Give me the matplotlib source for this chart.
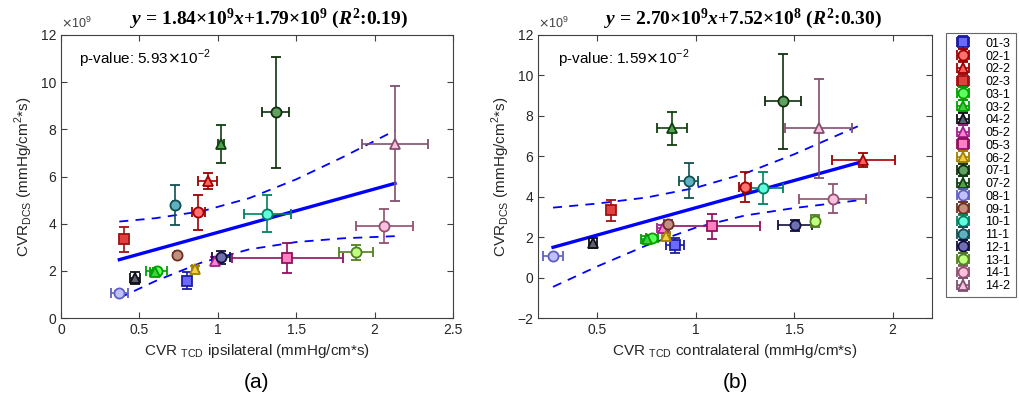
import numpy as np
import matplotlib
matplotlib.use('Agg')
import matplotlib.pyplot as plt

plt.rcParams['font.family'] = ['Liberation Sans', 'DejaVu Sans']
plt.rcParams['mathtext.fontset'] = 'custom'
plt.rcParams['mathtext.rm'] = 'Liberation Serif:bold'
plt.rcParams['mathtext.it'] = 'Liberation Serif:bold:italic'
plt.rcParams['mathtext.bf'] = 'Liberation Serif:bold'

# sujeitos / sessões
ids = ['01-3', '02-1', '02-2', '02-3', '03-1', '03-2', '04-2', '05-2', '05-3', '06-2',
       '07-1', '07-2', '08-1', '09-1', '10-1', '11-1', '12-1', '13-1', '14-1', '14-2']
markers = ['s', 'o', '^', 's', 'o', '^', '^', '^', 's', '^',
           'o', '^', 'o', 'o', 'o', 'o', 'o', 'o', 'o', '^']
edge_colors = ['#1c1ca0', '#a00000', '#a00000', '#a01010', '#00a000', '#00a000', '#101018', '#a0208a',
               '#901060', '#a08000', '#103010', '#104010', '#6060c0', '#703020', '#008060', '#105050',
               '#101040', '#508020', '#905070', '#805070']
face_colors = ['#6a6aff', '#ff7070', '#ff6060', '#e04040', '#60ff60', '#40d040', '#606070', '#ff80d0',
               '#ff80c0', '#f0d040', '#60a060', '#50a050', '#c0c0ff', '#c09080', '#60ffe0', '#60b0c0',
               '#7070b0', '#c0ff80', '#ffc0e0', '#ffc0e0']

# CVR DCS (x1e9) e erro
cvr_dcs = [1.59, 4.49, 5.81, 3.33, 1.98, 1.93, 1.70, 2.43, 2.53, 2.07,
           8.72, 7.38, 1.05, 2.67, 4.42, 4.80, 2.58, 2.78, 3.90, 7.38]
cvr_dcs_err = [0.35, 0.74, 0.34, 0.53, 0.12, 0.12, 0.25, 0.15, 0.63, 0.12,
               2.34, 0.82, 0.08, 0.10, 0.78, 0.85, 0.28, 0.30, 0.72, 2.44]

# CVR TCD ipsilateral
tcd_ipsi = [0.802, 0.876, 0.936, 0.404, 0.610, 0.600, 0.472, 0.982, 1.443, 0.855,
            1.369, 1.020, 0.372, 0.738, 1.316, 0.725, 1.020, 1.881, 2.062, 2.130]
tcd_ipsi_err = [0.02, 0.04, 0.06, 0.015, 0.066, 0.03, 0.03, 0.02, 0.355, 0.02,
                0.087, 0.02, 0.053, 0.01, 0.15, 0.01, 0.06, 0.11, 0.18, 0.21]

# CVR TCD contralateral
tcd_contra = [0.896, 1.252, 1.850, 0.571, 0.778, 0.753, 0.478, 0.834, 1.083, 0.850,
              1.444, 0.880, 0.276, 0.860, 1.342, 0.964, 1.503, 1.604, 1.696, 1.624]
tcd_contra_err = [0.046, 0.03, 0.16, 0.01, 0.03, 0.03, 0.02, 0.03, 0.245, 0.02,
                  0.093, 0.076, 0.05, 0.02, 0.10, 0.05, 0.087, 0.02, 0.17, 0.17]

# ajustes lineares (coeficientes do título)
fit_a = (1.84, 1.79)
fit_b = (2.70, 0.752)

# bandas de confiança
band_a_x = [0.372, 0.6, 0.9, 1.2, 1.5, 1.8, 2.130]
band_a_up = [4.09, 4.23, 4.53, 5.08, 5.88, 6.83, 7.95]
band_a_lo = [0.85, 1.56, 2.36, 2.91, 3.22, 3.38, 3.47]
band_b_x = [0.276, 0.5, 0.75, 1.0, 1.25, 1.5, 1.85]
band_b_up = [3.46, 3.66, 3.96, 4.44, 5.15, 6.10, 7.60]
band_b_lo = [-0.46, 0.55, 1.59, 2.47, 3.07, 3.44, 3.85]

fig = plt.figure(figsize=(10.2, 4.0), dpi=100)
ax1 = fig.add_axes([0.0598, 0.205, 0.3843, 0.7075])
ax2 = fig.add_axes([0.5275, 0.205, 0.3863, 0.7075])


def draw_panel(ax, xv, xe, fit, bx, bup, blo):
    handles = []
    for i in range(len(ids)):
        ms = 6.5 if markers[i] == 's' else 7.3
        h = ax.errorbar(xv[i], cvr_dcs[i], xerr=xe[i], yerr=cvr_dcs_err[i],
                        fmt=markers[i], ms=ms, mfc=face_colors[i], mec=edge_colors[i], mew=1.3,
                        ecolor=edge_colors[i], elinewidth=1.2, capsize=3.5, capthick=1.2,
                        label=ids[i], zorder=3)
        handles.append(h)
    xx = np.array([min(xv), max(xv)])
    ax.plot(xx, fit[0] * xx + fit[1], color='#0000ff', lw=2.4, zorder=2)
    ax.plot(bx, bup, color='#0000ff', lw=1.3, ls=(0, (5, 4)), zorder=2)
    ax.plot(bx, blo, color='#0000ff', lw=1.3, ls=(0, (5, 4)), zorder=2)
    ax.tick_params(direction='in', top=True, right=True, labelsize=10, length=4,
                   color='#404040', labelcolor='#262626')
    for s in ax.spines.values():
        s.set_color('#404040')
    ax.set_ylabel(r'CVR$_{\mathregular{DCS}}$ (mmHg/cm$^{\mathregular{2}}$*s)', fontsize=11,
                  math_fontfamily='dejavusans', color='#262626')
    ax.text(0.0, 1.015, r'$\times$10$^{\mathregular{9}}$', transform=ax.transAxes, fontsize=9,
            math_fontfamily='dejavusans', color='#404040', va='bottom')
    return handles


handles = draw_panel(ax1, tcd_ipsi, tcd_ipsi_err, fit_a, band_a_x, band_a_up, band_a_lo)
draw_panel(ax2, tcd_contra, tcd_contra_err, fit_b, band_b_x, band_b_up, band_b_lo)

title_font = dict(fontsize=14, fontfamily='Liberation Serif', fontweight='bold', pad=8)

ax1.set_xlim(0, 2.5)
ax1.set_ylim(0, 12)
ax1.set_xticks(np.arange(0, 2.51, 0.5))
ax1.set_xticklabels(['0', '0.5', '1', '1.5', '2', '2.5'])
ax1.set_yticks(np.arange(0, 12.1, 2))
ax1.set_xlabel(r'CVR $_{\mathregular{TCD}}$ ipsilateral (mmHg/cm*s)', fontsize=11,
               math_fontfamily='dejavusans', color='#262626')
ax1.set_title(r'$y$ = 1.84×10$^9$$x$+1.79×10$^9$ ($R^2$:0.19)', x=0.53, **title_font)
ax1.text(0.045, 0.915, r'p-value: 5.93$\times$10$^{\mathregular{-2}}$', transform=ax1.transAxes,
         fontsize=11, math_fontfamily='dejavusans', va='center')

ax2.set_xlim(0.2, 2.2)
ax2.set_ylim(-2, 12)
ax2.set_xticks([0.5, 1.0, 1.5, 2.0])
ax2.set_xticklabels(['0.5', '1', '1.5', '2'])
ax2.set_yticks(np.arange(-2, 12.1, 2))
ax2.set_xlabel(r'CVR $_{\mathregular{TCD}}$ contralateral (mmHg/cm*s)', fontsize=11,
               math_fontfamily='dejavusans', color='#262626')
ax2.set_title(r'$y$ = 2.70×10$^9$$x$+7.52×10$^8$ ($R^2$:0.30)', x=0.52, **title_font)
ax2.text(0.05, 0.915, r'p-value: 1.59$\times$10$^{\mathregular{-2}}$', transform=ax2.transAxes,
         fontsize=11, math_fontfamily='dejavusans', va='center')

fig.text(0.2515, 0.045, '(a)', ha='center', va='center', fontsize=15)
fig.text(0.7206, 0.045, '(b)', ha='center', va='center', fontsize=15)

leg = fig.legend(handles=handles, loc='upper left', bbox_to_anchor=(0.927, 0.918),
                 fontsize=9, frameon=True, fancybox=False, edgecolor='#404040',
                 labelspacing=0.06, handlelength=2.0, borderpad=0.4, handletextpad=0.8,
                 borderaxespad=0.0)
leg.get_frame().set_linewidth(0.8)

fig.savefig('out.png', dpi=100)
